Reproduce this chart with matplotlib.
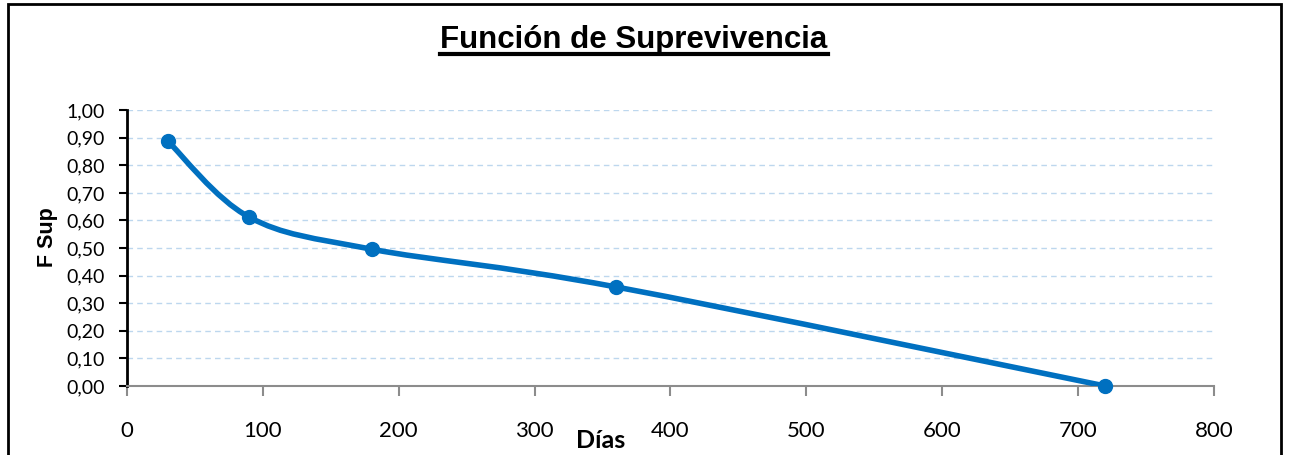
import matplotlib
matplotlib.use("Agg")
import matplotlib.pyplot as plt
from matplotlib.path import Path
from matplotlib.patches import PathPatch, Rectangle
from matplotlib.lines import Line2D
import numpy as np

# data
dias = [30, 90, 180, 360, 720]
f_sup = [0.888, 0.612, 0.496, 0.359, 0.0]
x_ticks = [0, 100, 200, 300, 400, 500, 600, 700, 800]
y_ticks = [0.0, 0.1, 0.2, 0.3, 0.4, 0.5, 0.6, 0.7, 0.8, 0.9, 1.0]

line_color = "#0070C0"
grid_color = "#BDD7EE"

fig = plt.figure(figsize=(12.89, 4.55), dpi=100)
ax = fig.add_axes([0.0985, 0.1516, 0.9418 - 0.0985, 0.758 - 0.1516])

# Excel-style smoothed line: cubic Bezier segments through the points
pts = np.column_stack([dias, f_sup])
ext = np.vstack([pts[0], pts, pts[-1]])
verts = [tuple(pts[0])]
codes = [Path.MOVETO]
for i in range(len(pts) - 1):
    p0, p1, p2, p3 = ext[i], ext[i + 1], ext[i + 2], ext[i + 3]
    c1 = p1 + (p2 - p0) / 6.0
    c2 = p2 - (p3 - p1) / 6.0
    verts += [tuple(c1), tuple(c2), tuple(p2)]
    codes += [Path.CURVE4] * 3
ax.add_patch(PathPatch(Path(verts, codes), facecolor="none", edgecolor=line_color,
                       lw=4, capstyle="round", joinstyle="round", zorder=3))
ax.plot(dias, f_sup, linestyle="none", marker="o", markersize=10,
        color=line_color, zorder=4, clip_on=False)

ax.set_xlim(0, 800)
ax.set_ylim(0, 1)
ax.set_xticks(x_ticks)
ax.set_yticks(y_ticks)
ax.set_xticklabels([str(v) for v in x_ticks], fontfamily="Lato", fontsize=16)
ax.set_yticklabels([f"{v:.2f}".replace(".", ",") for v in y_ticks],
                   fontfamily="Lato", fontsize=14)

ax.yaxis.grid(True, color=grid_color, linestyle=(0, (4, 3)), linewidth=1)
ax.set_axisbelow(True)

ax.spines["top"].set_visible(False)
ax.spines["right"].set_visible(False)
ax.spines["left"].set_color("black")
ax.spines["left"].set_linewidth(2)
ax.spines["bottom"].set_color("#8C8C8C")
ax.spines["bottom"].set_linewidth(1.5)
ax.tick_params(axis="y", length=6, width=1.5, color="black", pad=10)
ax.tick_params(axis="x", length=7, width=1.5, color="#8C8C8C", pad=18)

# axis titles placed like the Excel chart
fig.text(47 / 1289, 1 - 237 / 455, "F Sup", fontfamily="Liberation Sans",
         fontweight="bold", fontsize=15.5, rotation=90, ha="center", va="center")
fig.text(601 / 1289, 1 - 448 / 455, "Días", fontfamily="Lato", fontweight="bold",
         fontsize=18, ha="center", va="baseline")

# title with underline
title = fig.text(634 / 1289, 1 - 48 / 455, "Función de Suprevivencia",
                 fontfamily="Liberation Sans", fontweight="bold", fontsize=22.5,
                 ha="center", va="baseline")
fig.canvas.draw()
bb = title.get_window_extent().transformed(fig.transFigure.inverted())
fig.add_artist(Line2D([bb.x0, bb.x1], [1 - 54 / 455, 1 - 54 / 455],
                      transform=fig.transFigure, color="black", lw=3))

# chart border
fig.add_artist(Rectangle((8 / 1289, -0.1), (1281 - 8) / 1289, 1.1 - 4 / 455,
                         transform=fig.transFigure, fill=False,
                         edgecolor="black", lw=2))

fig.savefig("out.png", dpi=100)
